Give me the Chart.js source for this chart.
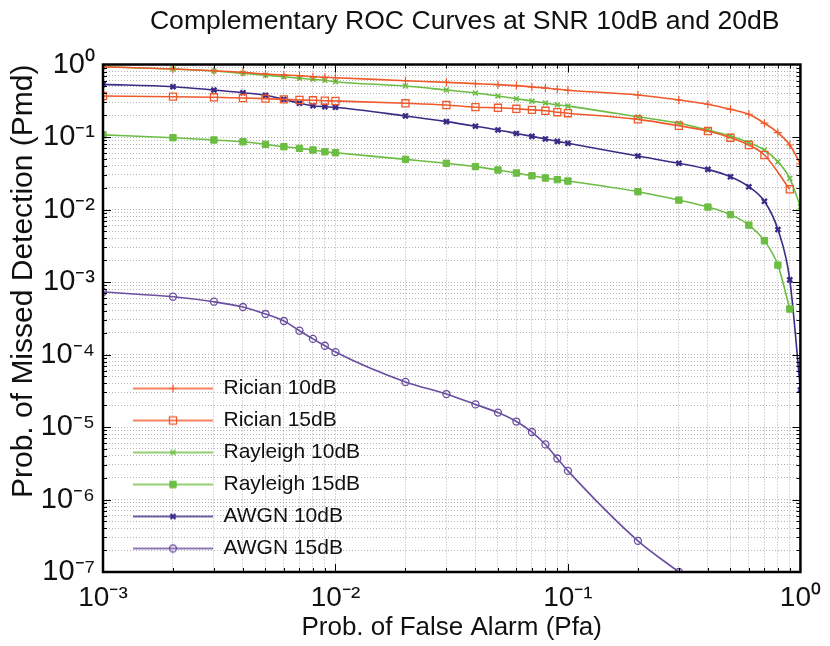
<!DOCTYPE html>
<html>
<head>
<meta charset="utf-8">
<title>Complementary ROC Curves</title>
<script src="https://cdn.jsdelivr.net/npm/chart.js@4.4.1/dist/chart.umd.min.js"></script>
<style>
  html, body { margin: 0; padding: 0; background: #fff; }
  #wrap { width: 830px; height: 646px; }
</style>
</head>
<body>
<div id="wrap"><canvas id="roc" width="830" height="646"></canvas></div>
<script>
// Probability of false alarm (x values)
const pfa = [0.001, 0.002, 0.003, 0.004, 0.005, 0.006, 0.007, 0.008, 0.009,
             0.01, 0.02, 0.03, 0.04, 0.05, 0.06, 0.07, 0.08, 0.09,
             0.1, 0.2, 0.3, 0.4, 0.5, 0.6, 0.7, 0.8, 0.9, 1.0];

// Probability of missed detection, one array per curve
const rician10 = [0.93, 0.867, 0.821, 0.780, 0.739, 0.716, 0.701, 0.679, 0.666,
                  0.658, 0.598, 0.568, 0.545, 0.528, 0.512, 0.490, 0.474, 0.455,
                  0.441, 0.380, 0.324, 0.283, 0.241, 0.206, 0.155, 0.115, 0.0776, 0.0425];
const rician15 = [0.368, 0.360, 0.353, 0.345, 0.338, 0.331, 0.324, 0.321, 0.317,
                  0.314, 0.292, 0.276, 0.258, 0.253, 0.245, 0.237, 0.230, 0.220,
                  0.213, 0.175, 0.143, 0.121, 0.0978, 0.0776, 0.0565, null, 0.019, null];
const rayleigh10 = [0.93, 0.867, 0.813, 0.756, 0.710, 0.679, 0.645, 0.625, 0.606,
                    0.579, 0.505, 0.445, 0.405, 0.368, 0.338, 0.313, 0.294, 0.278,
                    0.267, 0.19, 0.155, 0.125, 0.103, 0.0835, 0.0662, 0.0457, 0.0269, 0.0109];
const rayleigh15 = [0.107, 0.0978, 0.0910, 0.0861, 0.0793, 0.0735, 0.0698, 0.0662, 0.0627,
                    0.0607, 0.0492, 0.0434, 0.0391, 0.0351, 0.0319, 0.0292, 0.0272, 0.0258,
                    0.0247, 0.0176, 0.0135, 0.0108, 0.0085, 0.0061, 0.00371, 0.00171, 0.000424, null];
const awgn10 = [0.533, 0.494, 0.445, 0.408, 0.376, 0.331, 0.292, 0.270, 0.262,
                0.257, 0.195, 0.163, 0.141, 0.125, 0.112, 0.102, 0.094, 0.087,
                0.082, 0.0547, 0.0434, 0.0358, 0.0283, 0.0206, 0.013, 0.0053, 0.00107, 3.24e-5];
const awgn15 = [7.28e-4, 6.27e-4, 5.35e-4, 4.52e-4, 3.62e-4, 2.90e-4, 2.13e-4, 1.64e-4, 1.32e-4,
                1.08e-4, 4.18e-5, 2.85e-5, 2.05e-5, 1.58e-5, 1.19e-5, 8.53e-6, 5.75e-6, 3.68e-6,
                2.48e-6, 2.69e-7, 1.0e-7, null, null, null, null, null, null, null];

const seriesNames = ['Rician 10dB', 'Rician 15dB', 'Rayleigh 10dB', 'Rayleigh 15dB', 'AWGN 10dB', 'AWGN 15dB'];

// Axis ranges (powers of ten)
const xExp = [-3, 0];
const yExp = [-7, 0];

const FONT = "'Liberation Sans', Arial, Helvetica, sans-serif";
const RED = '#ef5a2c';
const GREEN = '#6cbd43';
const INDIGO = '#3b2b86';
const PURPLE = '#6a4e9f';

const styles = [
  { color: RED, pointStyle: 'cross', radius: 4, pw: 1.2, fill: RED },
  { color: RED, pointStyle: 'rect', radius: 5, pw: 1.3, fill: 'rgba(0,0,0,0)' },
  { color: GREEN, pointStyle: 'crossRot', radius: 3.5, pw: 1.6, fill: GREEN },
  { color: GREEN, pointStyle: 'rect', radius: 4.5, pw: 1, fill: GREEN },
  { color: INDIGO, pointStyle: 'crossRot', radius: 3.5, pw: 2.4, fill: INDIGO },
  { color: PURPLE, pointStyle: 'circle', radius: 3.5, pw: 1.3, fill: 'rgba(0,0,0,0)' }
];
const values = [rician10, rician15, rayleigh10, rayleigh15, awgn10, awgn15];

const SUP = { '-': '\u207B', '0': '\u2070', '1': '\u00B9', '2': '\u00B2', '3': '\u00B3',
              '4': '\u2074', '5': '\u2075', '6': '\u2076', '7': '\u2077', '8': '\u2078', '9': '\u2079' };

function isDecade(v) {
  const e = Math.log10(v);
  return Math.abs(e - Math.round(e)) < 1e-6;
}

function decadeLabel(v) {
  if (!isDecade(v)) return '';
  const e = String(Math.round(Math.log10(v)));
  return '10' + e.split('').map(c => SUP[c]).join('');
}

// 1..9 x 10^n for each decade
function logTicks(lo, hi) {
  const t = [];
  for (let e = lo; e < hi; e++) {
    for (let m = 1; m < 10; m++) t.push({ value: m * Math.pow(10, e) });
  }
  t.push({ value: Math.pow(10, hi) });
  return t;
}

// legend icon: short line with the marker in the middle
function legendIcon(s) {
  const c = document.createElement('canvas');
  c.width = 80; c.height = 16;
  const g = c.getContext('2d');
  g.strokeStyle = s.color;
  g.lineWidth = 1.6;
  g.beginPath(); g.moveTo(0, 8); g.lineTo(80, 8); g.stroke();
  g.fillStyle = s.fill;
  g.lineWidth = s.pw;
  Chart.helpers.drawPoint(g, { pointStyle: s.pointStyle, radius: s.radius, borderWidth: s.pw, rotation: 0 }, 40, 8);
  return c;
}

const datasets = seriesNames.map((name, i) => ({
  label: name,
  data: pfa.map((x, j) => ({ x: x, y: values[i][j] })),
  borderColor: styles[i].color,
  backgroundColor: styles[i].color,
  borderWidth: 1.6,
  pointStyle: styles[i].pointStyle,
  pointRadius: styles[i].radius,
  pointBorderWidth: styles[i].pw,
  pointBorderColor: styles[i].color,
  pointBackgroundColor: styles[i].fill,
  cubicInterpolationMode: 'monotone',
  spanGaps: true,
  fill: false
}));

// box with inward major / minor ticks on all four sides
const frame = {
  id: 'frame',
  afterDatasetsDraw(chart) {
    const { ctx, chartArea: a, scales: { x, y } } = chart;
    ctx.save();
    ctx.strokeStyle = '#000';
    ctx.lineWidth = 1;
    ctx.beginPath();
    x.ticks.forEach(t => {
      const px = Math.round(x.getPixelForValue(t.value)) + 0.5;
      if (px <= a.left + 1 || px >= a.right - 1) return;
      const len = isDecade(t.value) ? 8 : 4;
      ctx.moveTo(px, a.bottom); ctx.lineTo(px, a.bottom - len);
      ctx.moveTo(px, a.top); ctx.lineTo(px, a.top + len);
    });
    y.ticks.forEach(t => {
      const py = Math.round(y.getPixelForValue(t.value)) + 0.5;
      if (py <= a.top + 1 || py >= a.bottom - 1) return;
      const len = isDecade(t.value) ? 8 : 4;
      ctx.moveTo(a.left, py); ctx.lineTo(a.left + len, py);
      ctx.moveTo(a.right, py); ctx.lineTo(a.right - len, py);
    });
    ctx.stroke();
    ctx.lineWidth = 2.5;
    ctx.strokeRect(a.left, a.top, a.right - a.left, a.bottom - a.top);
    ctx.restore();
  }
};

// legend in the lower left corner of the plot, title nudged right
const placeBoxes = {
  id: 'placeBoxes',
  afterLayout(chart) {
    const lg = chart.legend;
    if (lg) {
      const w = lg.width, h = lg.height;
      lg.left = 122; lg.top = 367;
      lg.right = lg.left + w; lg.bottom = lg.top + h;
    }
    const tb = chart.titleBlock;
    if (tb) { tb.left += 26; tb.right += 0; }
  }
};

const icons = styles.map(legendIcon);

new Chart(document.getElementById('roc'), {
  type: 'line',
  data: { datasets: datasets },
  plugins: [frame, placeBoxes],
  options: {
    responsive: false,
    animation: false,
    events: [],
    layout: { padding: { left: 0, right: 25, top: 0, bottom: 0 } },
    scales: {
      x: {
        type: 'logarithmic',
        min: Math.pow(10, xExp[0]),
        max: Math.pow(10, xExp[1]),
        afterBuildTicks: s => { s.ticks = logTicks(xExp[0], xExp[1]); },
        afterFit: s => { s.height = 74; },
        grid: { color: '#b3b3b3', lineWidth: 1, drawTicks: false },
        border: { display: false, dash: [1, 2] },
        ticks: {
          autoSkip: false, maxRotation: 0, padding: 9, color: '#111',
          font: { family: FONT, size: 28 },
          callback: v => decadeLabel(v)
        },
        title: {
          display: true, text: 'Prob. of False Alarm (Pfa)', color: '#111',
          font: { family: FONT, size: 26 }, padding: { top: 0, bottom: 3 }
        }
      },
      y: {
        type: 'logarithmic',
        min: Math.pow(10, yExp[0]),
        max: Math.pow(10, yExp[1]),
        afterBuildTicks: s => { s.ticks = logTicks(yExp[0], yExp[1]); },
        afterFit: s => { s.width = 103; },
        grid: { color: '#b3b3b3', lineWidth: 1, drawTicks: false },
        border: { display: false, dash: [1, 2] },
        ticks: {
          autoSkip: false, padding: 8, color: '#111',
          font: { family: FONT, size: 29 },
          callback: v => decadeLabel(v)
        },
        title: {
          display: true, text: 'Prob. of Missed Detection (Pmd)', color: '#111',
          align: 'end',
          font: { family: FONT, size: 30 }, padding: { top: 6, bottom: 0 }
        }
      }
    },
    plugins: {
      title: {
        display: true,
        text: 'Complementary ROC Curves at SNR 10dB and 20dB',
        color: '#111',
        fullSize: false,
        font: { family: FONT, size: 26.6, weight: 'normal' },
        padding: { top: 6, bottom: 26.6 }
      },
      legend: {
        position: 'chartArea',
        align: 'start',
        labels: {
          usePointStyle: true,
          pointStyleWidth: 80,
          padding: 11,
          color: '#111',
          font: { family: FONT, size: 21 },
          generateLabels: chart => chart.data.datasets.map((ds, i) => ({
            text: ds.label,
            pointStyle: icons[i],
            fillStyle: ds.borderColor,
            strokeStyle: ds.borderColor,
            lineWidth: 0,
            hidden: false,
            datasetIndex: i,
            fontColor: '#111'
          }))
        }
      },
      tooltip: { enabled: false }
    }
  }
});
</script>
</body>
</html>
